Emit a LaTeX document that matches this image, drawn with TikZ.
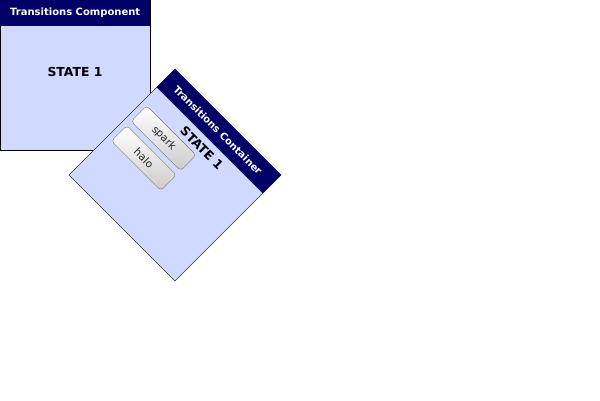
\documentclass[tikz,border=0pt]{standalone}
\usepackage{fontspec}
\setmainfont{DejaVu Sans}
\definecolor{navy}{HTML}{000066}
\definecolor{panelbg}{HTML}{D0D9FF}
\definecolor{btnline}{HTML}{777777}
\definecolor{btntext}{HTML}{222222}
\tikzset{
  panel/.style={fill=panelbg, draw=black, line width=0.8pt},
  header/.style={fill=navy},
  htitle/.style={anchor=west, text=white, font=\bfseries\fontsize{10}{12}\selectfont, inner sep=0pt},
  statetxt/.style={font=\bfseries\fontsize{12.4}{14}\selectfont, inner sep=0pt},
  btn/.style={minimum width=70pt, minimum height=22pt, rounded corners=3.5pt, draw=btnline, top color=white, bottom color=gray!40, text=btntext, font=\fontsize{10.5}{12}\selectfont, inner sep=0pt}
}
\begin{document}
\begin{tikzpicture}[x=1pt,y=-1pt]
\useasboundingbox (0,0) rectangle (600,400);
% first panel
\path[panel] (0.4,0.4) rectangle (150,150);
\path[header] (0,0) rectangle (150.4,26);
\node[htitle] (t1) at (10,13) {Transitions Component};
\node[statetxt] (s1) at (75,72) {STATE 1};
% rotated panel
\begin{scope}[shift={(175,175)}, rotate=-45, transform shape]
  \path[panel, draw=black!80, line width=0.6pt] (-75,-75) rectangle (75,75);
  \path[header] (-75,-75) rectangle (75,-49);
  \node[htitle] (t2) at (-62,-62) {Transitions Container};
  \node[statetxt] (s2) at (0,-38) {STATE 1};
  \node[btn] (spark) at (-34,-18) {spark};
  \node[btn] (halo) at (-34,10) {halo};
\end{scope}
\end{tikzpicture}
\end{document}
